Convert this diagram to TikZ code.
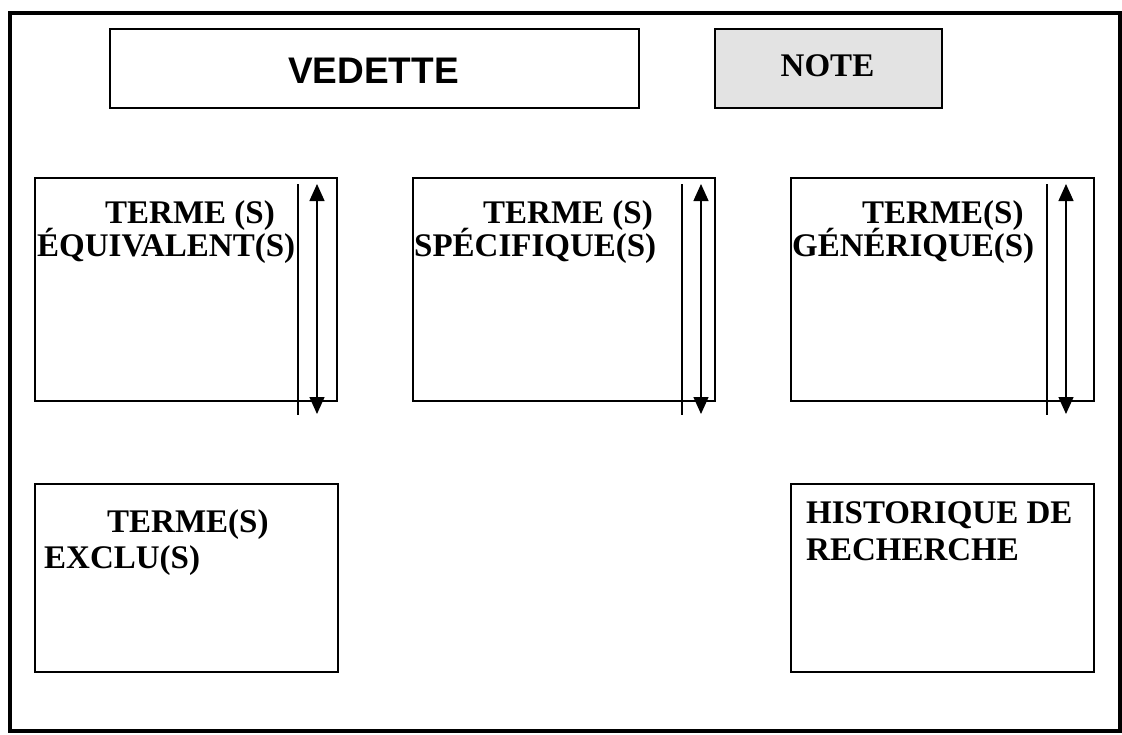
\documentclass[tikz,border=0pt]{standalone}
\usepackage{fontspec}
\setmainfont{Liberation Serif}
\newfontfamily\arialfont{Liberation Sans}
\usepackage{tikz}
\usetikzlibrary{arrows.meta}
\definecolor{notegray}{RGB}{227,227,227}

\begin{document}
\begin{tikzpicture}[x=1pt, y=-1pt,
  cadre/.style={draw, line width=2pt, inner sep=0pt, anchor=north west},
  titre/.style={font=\fontsize{33}{35}\selectfont\bfseries, anchor=base west, inner sep=0pt},
  filet/.style={line width=1.4pt},
  renvoi/.style={line width=1.4pt, {Triangle[width=15pt,length=17pt]}-{Triangle[width=15pt,length=17pt]}}]
\useasboundingbox (0,0) rectangle (1122,734);

% Outer frame
\draw[line width=4pt] (9.5,12.5) rectangle (1120,731);

% Top boxes
\node[cadre, minimum width=529pt, minimum height=79pt] (vedette) at (109,28) {};
\node[inner sep=0pt, anchor=base, font=\arialfont\bfseries\fontsize{37}{39}\selectfont] (vedettetxt) at (373.5,83) {VEDETTE};
\node[cadre, fill=notegray, minimum width=227pt, minimum height=79pt] (note) at (714,28) {};
\node[titre, anchor=base] (notetxt) at (827.5,76) {NOTE};

% Term boxes
\node[cadre, minimum width=302pt, minimum height=223pt] (equiv) at (34,177) {};
\node[cadre, minimum width=302pt, minimum height=223pt] (specif) at (412,177) {};
\node[cadre, minimum width=303pt, minimum height=223pt] (generi) at (790,177) {};
\node[cadre, minimum width=303pt, minimum height=188pt] (exclu) at (34,483) {};
\node[cadre, minimum width=303pt, minimum height=188pt] (histo) at (790,483) {};

% Labels
\node[titre] (equiva) at (105,223) {TERME (S)};
\node[titre] (equivb) at (37,256) {ÉQUIVALENT(S)};
\node[titre] (specifa) at (483,223) {TERME (S)};
\node[titre] (specifb) at (414,256) {SPÉCIFIQUE(S)};
\node[titre] (generia) at (862,223) {TERME(S)};
\node[titre] (generib) at (792,256) {GÉNÉRIQUE(S)};
\node[titre] (exclua) at (107,532) {TERME(S)};
\node[titre] (exclub) at (44,568) {EXCLU(S)};
\node[titre] (histoa) at (806,523) {HISTORIQUE DE};
\node[titre] (histob) at (806,560) {RECHERCHE};

% Cross references
\coordinate (equivfh) at (298,184);
\coordinate (equivfb) at (298,415);
\coordinate (equivrh) at (317,184);
\coordinate (equivrb) at (317,414);
\coordinate (specfh) at (682,184);
\coordinate (specfb) at (682,415);
\coordinate (specrh) at (701,184);
\coordinate (specrb) at (701,414);
\coordinate (genfh) at (1047,184);
\coordinate (genfb) at (1047,415);
\coordinate (genrh) at (1066,184);
\coordinate (genrb) at (1066,414);

\draw[filet] (equivfh) -- (equivfb);
\draw[renvoi] (equivrb) -- (equivrh);
\draw[filet] (specfh) -- (specfb);
\draw[renvoi] (specrb) -- (specrh);
\draw[filet] (genfh) -- (genfb);
\draw[renvoi] (genrb) -- (genrh);
\end{tikzpicture}
\end{document}
